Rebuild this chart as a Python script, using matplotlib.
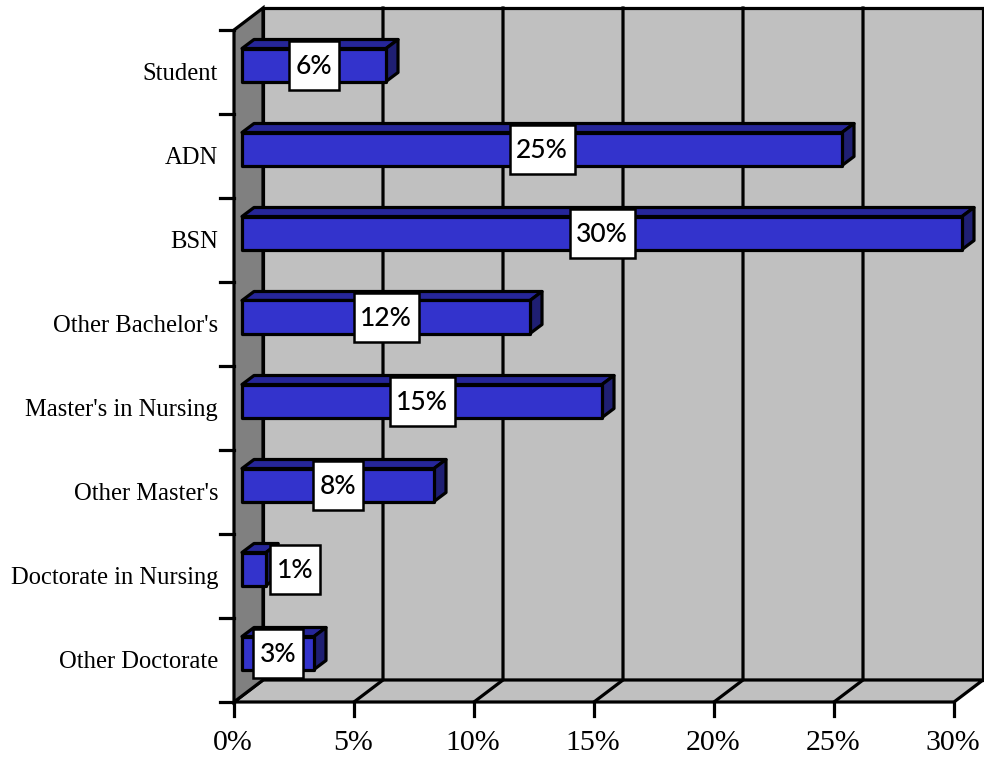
import matplotlib
matplotlib.use('Agg')
import matplotlib.pyplot as plt
from matplotlib.patches import Polygon, Rectangle

categories = ['Other Doctorate', 'Doctorate in Nursing', "Other Master's",
              "Master's in Nursing", "Other Bachelor's", 'BSN', 'ADN', 'Student']
values = [3, 1, 8, 15, 12, 30, 25, 6]
x_ticks = [0, 5, 10, 15, 20, 25, 30]

W, H = 984, 759
PX = 24.0   # pixels per percent
PY = 84.0   # pixels per category band
X0, Y0 = 234, 702   # pixel position of the axes origin
DX, DY = 29 / PX, 22 / PY   # depth of the box
BX, BY = 12 / PX, 9 / PY    # depth of one bar
START = 8 / PX
BAR_H = 33 / PY
LW = 2.3

BLUE, BLUE_TOP, BLUE_SIDE = '#3333CC', '#262699', '#1F1F73'
WALL, SIDE_WALL = '#C0C0C0', '#808080'

fig = plt.figure(figsize=(W / 100, H / 100), dpi=100)
ax = fig.add_axes([0, 0, 1, 1])
ax.set_xlim(-X0 / PX, (W - X0) / PX)
ax.set_ylim((Y0 - H) / PY, Y0 / PY)
ax.axis('off')

n = len(categories)
xmax = x_ticks[-1]


def poly(points, color, z=1, lw=LW, ec='black', join='miter'):
    ax.add_patch(Polygon(points, closed=True, fc=color, ec=ec, lw=lw, zorder=z,
                         joinstyle=join))


# walls and floor
poly([(DX, DY), (xmax + DX, DY), (xmax + DX, n + DY), (DX, n + DY)], WALL)
poly([(0, 0), (xmax, 0), (xmax + DX, DY), (DX, DY)], WALL)
poly([(0, 0), (DX, DY), (DX, n + DY), (0, n)], SIDE_WALL)

for t in x_ticks[1:-1]:
    ax.plot([t, t + DX, t + DX], [0, DY, n + DY], color='black', lw=LW, zorder=2)

# ticks
for i in range(n + 1):
    ax.plot([-14 / PX, 0], [i, i], color='black', lw=LW, zorder=2)
for t in x_ticks:
    ax.plot([t, t], [0, -14 / PY], color='black', lw=LW, zorder=2)
    ax.text(t - 1 / PX, -41 / PY, f'{t}%', ha='center', va='center', fontsize=21.5,
            family='Liberation Serif', color='black')

# bars, the far ones first so the near ones sit on top
for i, (label, v) in reversed(list(enumerate(zip(categories, values)))):
    low = i + 0.5 - 0.5 * BAR_H + BY / 2 + 2.5 / PY
    high = low + BAR_H
    left = START
    right = START + v
    z = 3
    poly([(left, high), (left + BX, high + BY), (right + BX, high + BY), (right, high)],
         BLUE_TOP, z, join='round')
    poly([(right, low), (right + BX, low + BY), (right + BX, high + BY), (right, high)],
         BLUE_SIDE, z, join='round')
    poly([(left, low), (right, low), (right, high), (left, high)], BLUE, z, join='round')

    ax.text(-16 / PX, i + 0.5 - 2 / PY, label, ha='right', va='center', fontsize=17.7,
            family='Liberation Serif', color='black')

    # value box, centred on the bar
    centre = START + v / 2
    if v == 1:
        centre = 61 / PX
    box_w = (50 if v < 10 else 65) / PX
    box_h = 49 / PY
    mid = (low + high) / 2
    ax.add_patch(Rectangle((centre - box_w / 2, mid - box_h / 2), box_w, box_h,
                           fc='white', ec='black', lw=1.8, zorder=5))
    ax.text(centre, mid - 1.5 / PY, f'{v}%', ha='center', va='center', fontsize=19,
            family='Lato', weight='medium', color='black', zorder=6)

fig.savefig('out.png', dpi=100)
